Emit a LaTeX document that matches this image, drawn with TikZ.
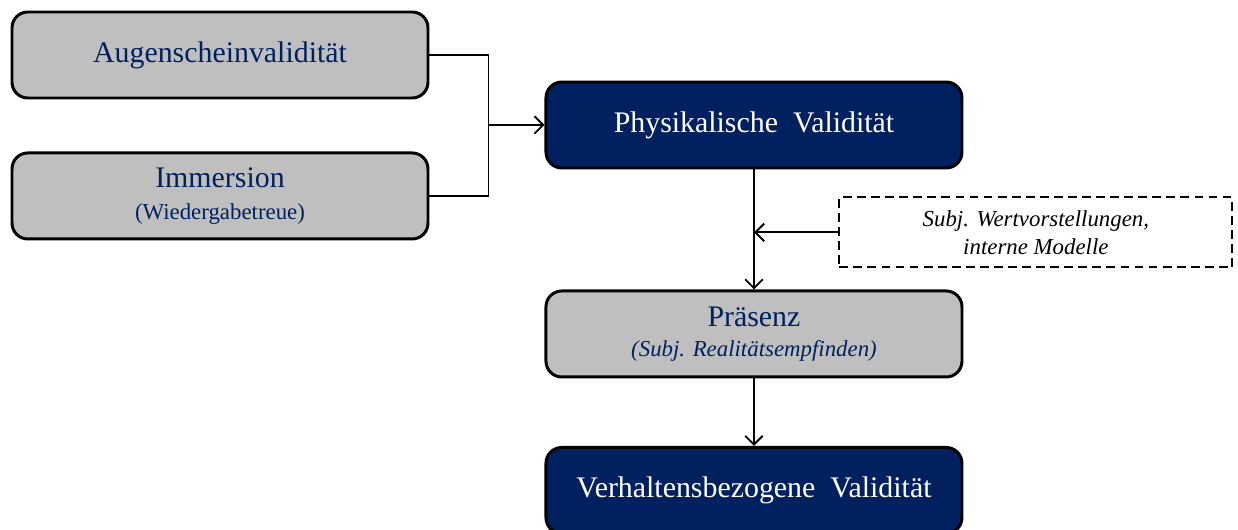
\documentclass[tikz,border=0pt]{standalone}
\usepackage{fontspec}
\setmainfont{Liberation Serif}
\usetikzlibrary{arrows.meta, positioning}

\definecolor{navy}{HTML}{002060}
\definecolor{boxgray}{HTML}{BFBFBF}

\begin{document}
\begin{tikzpicture}[
  greybox/.style={rectangle, rounded corners=9pt, draw=black, line width=1.7pt,
                  fill=boxgray, text=navy, minimum width=8.32cm, minimum height=1.72cm,
                  align=center, font=\fontsize{17}{20}\selectfont},
  bluebox/.style={greybox, fill=navy, text=white},
  notebox/.style={rectangle, draw=black, line width=1pt, dash pattern=on 5pt off 3pt,
                  fill=white, minimum width=7.86cm, minimum height=1.4cm, align=center,
                  font=\fontsize{13}{16}\selectfont\itshape},
  arr/.style={-{Straight Barb[length=5pt, width=10pt]}, line width=1.1pt},
  conn/.style={line width=1.1pt}
]

\useasboundingbox (0,0) rectangle (24.76,-10.6);

% --- Input boxes (left) ---
\node[greybox] (aug) at (4.4,-1.1) {Augenscheinvalidität};
\node[greybox, below=1.04cm of aug] (imm)
      {Immersion\\[-2pt] {\fontsize{13}{15}\selectfont (Wiedergabetreue)}};

% --- Main column ---
\node[bluebox, right=2.3cm of aug, yshift=-1.4cm] (phys) {Physikalische\ \ Validität};
\node[greybox, below=2.4cm of phys] (praes)
      {Präsenz\\[-3pt] {\fontsize{13}{15}\selectfont\itshape (Subj. Realitätsempfinden)}};
\node[bluebox, below=1.35cm of praes] (verh) {Verhaltensbezogene\ \ Validität};

% --- Side note ---
\node[notebox, below right=0.54cm and -2.5cm of phys.south east] (note)
      {Subj. Wertvorstellungen,\\ interne Modelle};

\coordinate[right=1.18cm of aug.east] (join);

\draw[conn] (aug.east) -- (join) |- (imm.east);
\draw[arr] (join |- phys.west) -- (phys.west);

\draw[arr] (phys) -- (praes);
\draw[arr] (note.west) -- (note.west -| phys.south);
\draw[arr] (praes) -- (verh);

\end{tikzpicture}
\end{document}
